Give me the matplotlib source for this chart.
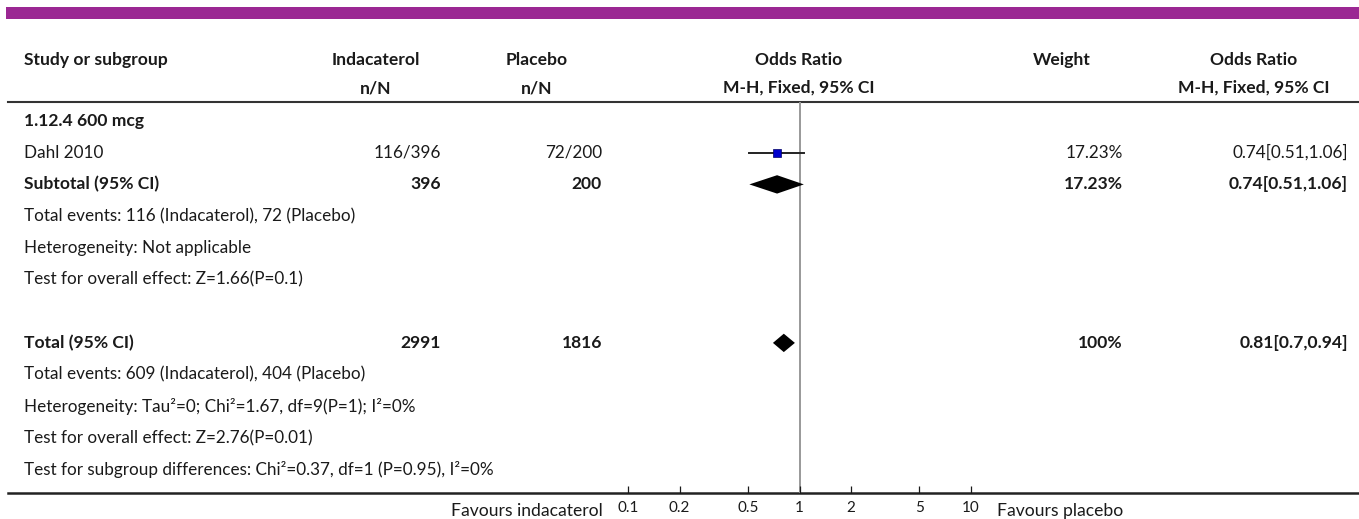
import matplotlib
matplotlib.use("Agg")
import matplotlib.pyplot as plt
import numpy as np

plt.rcParams['font.family'] = ['Lato', 'DejaVu Sans']

# ---- data ----
studies = ["Dahl 2010"]
ind_events = [116]
ind_total = [396]
pla_events = [72]
pla_total = [200]
study_or = [0.74]
study_lo = [0.51]
study_hi = [1.06]
study_weight = ["17.23%"]

sub_label = "1.12.4 600 mcg"
sub_n = [396, 200]
sub_or, sub_lo, sub_hi = 0.74, 0.51, 1.06
sub_weight = "17.23%"
sub_notes = ["Total events: 116 (Indacaterol), 72 (Placebo)",
             "Heterogeneity: Not applicable",
             "Test for overall effect: Z=1.66(P=0.1)"]

tot_n = [2991, 1816]
tot_or, tot_lo, tot_hi = 0.81, 0.7, 0.94
tot_weight = "100%"
tot_notes = ["Total events: 609 (Indacaterol), 404 (Placebo)",
             "Heterogeneity: Tau\u00b2=0; Chi\u00b2=1.67, df=9(P=1); I\u00b2=0%",
             "Test for overall effect: Z=2.76(P=0.01)",
             "Test for subgroup differences: Chi\u00b2=0.37, df=1 (P=0.95), I\u00b2=0%"]

ticks = [0.1, 0.2, 0.5, 1, 2, 5, 10]
tick_labels = ["0.1", "0.2", "0.5", "1", "2", "5", "10"]

W, H = 1359, 519
fig = plt.figure(figsize=(W / 100, H / 100), dpi=100)

# text layer in pixel coords
tx = fig.add_axes([0, 0, 1, 1])
tx.set_xlim(0, W)
tx.set_ylim(H, 0)
tx.axis("off")

row0, dy = 121, 31.7
def ry(i):
    return row0 + dy * i

fs = 12.3
fb = 12.6
tcol = "#1a1a1a"
x_name, x_ind, x_pla, x_w, x_or = 24, 441, 602, 1123, 1348

tx.fill_between([6, W], 7, 19, color="#9b2893", lw=0)

# header
def head(x, y, s, ha="center"):
    tx.text(x, y, s, fontsize=fb, fontweight="bold", va="center", ha=ha, color=tcol)

head(x_name, 60, "Study or subgroup", ha="left")
head(376, 60, "Indacaterol")
head(376, 88, "n/N")
head(537, 60, "Placebo")
head(537, 88, "n/N")
head(799, 60, "Odds Ratio")
head(799, 88, "M-H, Fixed, 95% CI")
head(1062, 60, "Weight")
head(1254, 60, "Odds Ratio")
head(1254, 88, "M-H, Fixed, 95% CI")
tx.plot([8, W], [102, 102], color="#333333", lw=1.5)

# subgroup block
tx.text(x_name, ry(0), sub_label, fontsize=fb, fontweight="bold", va="center", color=tcol)
for k, s in enumerate(studies):
    y = ry(1 + k)
    tx.text(x_name, y, s, fontsize=fs, va="center", color=tcol)
    tx.text(x_ind, y, "%d/%d" % (ind_events[k], ind_total[k]), fontsize=fs, va="center", ha="right", color=tcol)
    tx.text(x_pla, y, "%d/%d" % (pla_events[k], pla_total[k]), fontsize=fs, va="center", ha="right", color=tcol)
    tx.text(x_w, y, study_weight[k], fontsize=fs, va="center", ha="right", color=tcol)
    tx.text(x_or, y, "%g[%g,%g]" % (study_or[k], study_lo[k], study_hi[k]), fontsize=fs, va="center", ha="right", color=tcol)

ys = 1 + len(studies)
tx.text(x_name, ry(ys), "Subtotal (95% CI)", fontsize=fb, fontweight="bold", va="center", color=tcol)
tx.text(x_ind, ry(ys), str(sub_n[0]), fontsize=fb, fontweight="bold", va="center", ha="right", color=tcol)
tx.text(x_pla, ry(ys), str(sub_n[1]), fontsize=fb, fontweight="bold", va="center", ha="right", color=tcol)
tx.text(x_w, ry(ys), sub_weight, fontsize=fb, fontweight="bold", va="center", ha="right", color=tcol)
tx.text(x_or, ry(ys), "%g[%g,%g]" % (sub_or, sub_lo, sub_hi), fontsize=fb, fontweight="bold", va="center", ha="right", color=tcol)
for k, s in enumerate(sub_notes):
    tx.text(x_name, ry(ys + 1 + k), s, fontsize=fs, va="center", color=tcol)

yt = ys + len(sub_notes) + 2
tx.text(x_name, ry(yt), "Total (95% CI)", fontsize=fb, fontweight="bold", va="center", color=tcol)
tx.text(x_ind, ry(yt), str(tot_n[0]), fontsize=fb, fontweight="bold", va="center", ha="right", color=tcol)
tx.text(x_pla, ry(yt), str(tot_n[1]), fontsize=fb, fontweight="bold", va="center", ha="right", color=tcol)
tx.text(x_w, ry(yt), tot_weight, fontsize=fb, fontweight="bold", va="center", ha="right", color=tcol)
tx.text(x_or, ry(yt), "%g[%g,%g]" % (tot_or, tot_lo, tot_hi), fontsize=fb, fontweight="bold", va="center", ha="right", color=tcol)
for k, s in enumerate(tot_notes):
    tx.text(x_name, ry(yt + 1 + k), s, fontsize=fs, va="center", color=tcol)

tx.plot([8, W], [493, 493], color="#222222", lw=1.8)
tx.text(603, 511, "Favours indacaterol", fontsize=12.6, va="center", ha="right", color=tcol)
tx.text(997, 511, "Favours placebo", fontsize=12.6, va="center", ha="left", color=tcol)

# forest axes: 0.1 -> 628px, 10 -> 971px ; rows mapped like the text layer
x0, x1 = 628, 971
ytop, ybot = 102, 493
ax = fig.add_axes([x0 / W, 1 - ybot / H, (x1 - x0) / W, (ybot - ytop) / H])
ax.patch.set_alpha(0)
ax.set_xscale("log")
ax.set_xlim(0.1, 10)
ax.set_ylim((ybot - row0) / dy, (ytop - row0) / dy)
for sp in ax.spines.values():
    sp.set_visible(False)
ax.set_yticks([])
ax.set_xticks(ticks)
ax.set_xticklabels(tick_labels)
ax.minorticks_off()
ax.tick_params(axis="x", direction="in", length=5, width=0.9, pad=6, labelsize=11, colors=tcol)

ax.axvline(1, color="#999999", lw=1.4, zorder=1)

for k in range(len(studies)):
    y = 1 + k
    ax.plot([study_lo[k], study_hi[k]], [y, y], color="#222222", lw=1.4, zorder=2)
    ax.plot([study_or[k]], [y], marker="s", ms=5.5, color="#0000cc", mec="#000066", mew=0.5, zorder=3)

h = 0.29
ax.fill([sub_lo, sub_or, sub_hi, sub_or], [ys, ys - h, ys, ys + h], color="black", lw=0, zorder=3)
ax.fill([tot_lo, tot_or, tot_hi, tot_or], [yt, yt - h, yt, yt + h], color="black", lw=0, zorder=3)

fig.savefig("out.png", dpi=100)
